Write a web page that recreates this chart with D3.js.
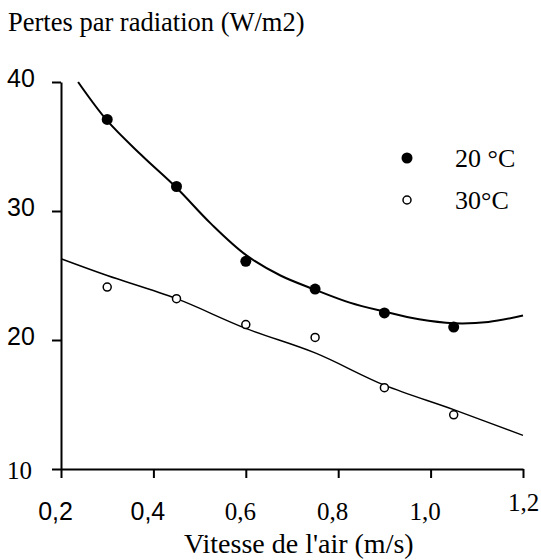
<!DOCTYPE html>
<meta charset="utf-8">
<style>
body { margin: 0; background: #fff; }
svg text { font-family: 'Liberation Serif', 'Times New Roman', Times; fill: #000; }
svg text.sans { font-family: 'Liberation Sans', Arial; }
</style>
<body>
<script src="https://cdn.jsdelivr.net/npm/d3@7/dist/d3.min.js"></script>
<script>

// measured points
var vitesse = [0.3, 0.45, 0.6, 0.75, 0.9, 1.05];
var pertes20 = [37.1, 31.9, 26.1, 23.95, 22.1, 21.0];
var pertes30 = [24.1, 23.2, 21.2, 20.2, 16.3, 14.2];

// fitted curves
var courbe20x = [0.237, 0.3, 0.375, 0.45, 0.525, 0.6, 0.675, 0.75, 0.825, 0.9, 0.975, 1.05, 1.125, 1.2];
var courbe20y = [40.0, 37.0, 34.3, 31.8, 29.0, 26.6, 25.0, 23.9, 22.9, 22.2, 21.6, 21.3, 21.4, 21.9];
var droite30x = [0.2, 0.3, 0.45, 0.6, 0.75, 0.9, 1.05, 1.2];
var droite30y = [26.3, 25.0, 23.2, 20.9, 19.0, 16.5, 14.6, 12.6];

var xTicks = [0.2, 0.4, 0.6, 0.8, 1.0, 1.2];
var xLabels = ["0,2", "0,4", "0,6", "0,8", "1,0", "1,2"];
var yTicks = [10, 20, 30, 40];
var yLabels = ["10", "20", "30", "40"];
var series = ["20 °C", "30°C"];

var W = 541, H = 560;
var x = d3.scaleLinear().domain([0.2, 1.2]).range([61, 523]);
var y = d3.scaleLinear().domain([10, 40]).range([469, 82]);

var svg = d3.select("body").append("svg")
    .attr("width", W)
    .attr("height", H);

// axes
var xAxis = svg.append("g")
    .attr("transform", "translate(0," + y(10) + ")")
    .call(d3.axisBottom(x).tickValues(xTicks).tickSize(9).tickSizeOuter(0)
      .tickFormat(function(d, i) { return xLabels[i]; }));
var yAxis = svg.append("g")
    .attr("transform", "translate(" + x(0.2) + ",0)")
    .call(d3.axisLeft(y).tickValues(yTicks).tickSize(9).tickSizeOuter(0)
      .tickFormat(function(d, i) { return yLabels[i]; }));

[xAxis, yAxis].forEach(function(a) {
  a.attr("font-family", null).attr("font-size", null);
  a.selectAll("path, line").attr("stroke", "#000").attr("stroke-width", 2);
  a.selectAll("text").attr("font-size", 25).attr("fill", "#000");
});
// the scan mixes two typefaces in the tick labels
xAxis.selectAll(".tick text").attr("y", 0).attr("dy", 0)
    .attr("transform", function(d) { return d === 1.2 ? "translate(0,42)" : "translate(-6,51)"; })
    .attr("class", function(d) { return d < 0.5 ? "sans" : "serif"; });
yAxis.selectAll(".tick text").attr("x", 0).attr("dy", 0)
    .attr("text-anchor", "start")
    .attr("transform", function(d) { return "translate(" + (7 - x(0.2)) + "," + (d === 10 ? 9 : 4) + ")"; })
    .attr("class", function(d) { return d > 10 ? "sans" : "serif"; });

// fitted lines
var line = d3.line()
    .x(function(d) { return x(d[0]); })
    .y(function(d) { return y(d[1]); })
    .curve(d3.curveCatmullRom);

svg.append("path")
    .datum(d3.zip(courbe20x, courbe20y))
    .attr("d", line)
    .attr("fill", "none").attr("stroke", "#000").attr("stroke-width", 2);
svg.append("path")
    .datum(d3.zip(droite30x, droite30y))
    .attr("d", line)
    .attr("fill", "none").attr("stroke", "#000").attr("stroke-width", 1.4);

// points
svg.selectAll(".p20").data(d3.zip(vitesse, pertes20)).enter().append("circle")
    .attr("class", "p20")
    .attr("cx", function(d) { return x(d[0]); })
    .attr("cy", function(d) { return y(d[1]); })
    .attr("r", 5.5).attr("fill", "#000");
svg.selectAll(".p30").data(d3.zip(vitesse, pertes30)).enter().append("circle")
    .attr("class", "p30")
    .attr("cx", function(d) { return x(d[0]); })
    .attr("cy", function(d) { return y(d[1]); })
    .attr("r", 4).attr("fill", "#fff").attr("stroke", "#000").attr("stroke-width", 1.5);

// legend
var leg = svg.append("g").attr("transform", "translate(407,158)");
leg.append("circle").attr("r", 5.5).attr("fill", "#000");
leg.append("circle").attr("cy", 42).attr("r", 4).attr("fill", "#fff")
    .attr("stroke", "#000").attr("stroke-width", 1.5);
leg.selectAll("text").data(series).enter().append("text")
    .attr("x", 48)
    .attr("y", function(d, i) { return 9 + i * 42; })
    .attr("font-size", 26)
    .text(function(d) { return d; });

// titles
svg.append("text").attr("x", 8).attr("y", 31).attr("font-size", 26.5)
    .text("Pertes par radiation (W/m2)");
svg.append("text").attr("x", 184).attr("y", 553).attr("font-size", 28)
    .text("Vitesse de l'air (m/s)");

</script>
</body>
